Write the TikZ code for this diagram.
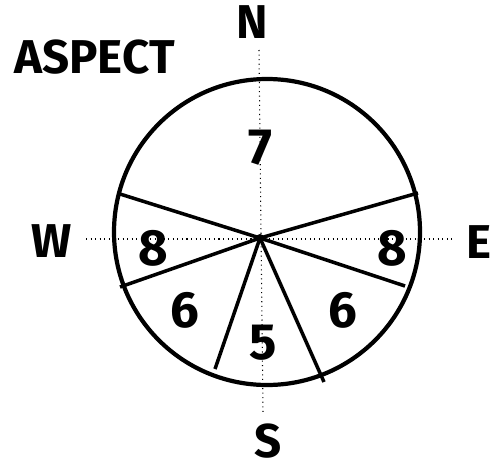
\documentclass[tikz,border=0pt]{standalone}
\usepackage{fontspec}
\setmainfont{Fira Sans}
\usetikzlibrary{positioning}

\begin{document}
\begin{tikzpicture}[
    x=0.02cm, y=-0.02cm,
    rim/.style={draw, line width=2.4pt},
    spoke/.style={draw, line width=2pt},
    guide/.style={draw, dotted, line width=0.6pt},
    label/.style={font=\fontsize{27}{30}\selectfont\bfseries, inner sep=0pt},
    score/.style={font=\fontsize{29}{32}\selectfont\bfseries, inner sep=0pt}
]
\useasboundingbox (0,0) rectangle (497,470);
% Guide lines
\coordinate (Ntop) at (259,50);
\coordinate (Sbot) at (263,413);
\coordinate (Wend) at (86,239);
\coordinate (Eend) at (452,239);
\path (Ntop) edge[guide] (Sbot);
\path (Wend) edge[guide] (Eend);
% Rim and hub
\coordinate (mid) at (267,232);
\draw[rim] (mid) circle (153);
\coordinate (hub) at (260,238);
\fill (hub) circle (4);
% Spoke ends
\coordinate (P1) at (120,194);
\coordinate (P2) at (120,287);
\coordinate (P3) at (215,369);
\coordinate (P4) at (324,382);
\coordinate (P5) at (405,286);
\coordinate (P6) at (418,193);
\foreach \p in {P1,P2,P3,P4,P5,P6}
    \path (hub) edge[spoke] (\p);
% Compass labels
\node[label] (N) at (252,22) {N};
\node[label] (S) at (268,441) {S};
\node[label] (W) at (52,241) {W};
\node[label, anchor=east] (E) at (492,242) {E};
\node[label, anchor=west] (title) at (14,57) {ASPECT};
% Scores
\node[score] (s7) at (260,148) {7};
\node[score] (s8w) at (153,248) {8};
\node[score] (s8e) at (392,248) {8};
\node[score] (s6w) at (185,310) {6};
\node[score] (s6e) at (343,310) {6};
\node[score] (s5) at (263,343) {5};
\end{tikzpicture}
\end{document}
